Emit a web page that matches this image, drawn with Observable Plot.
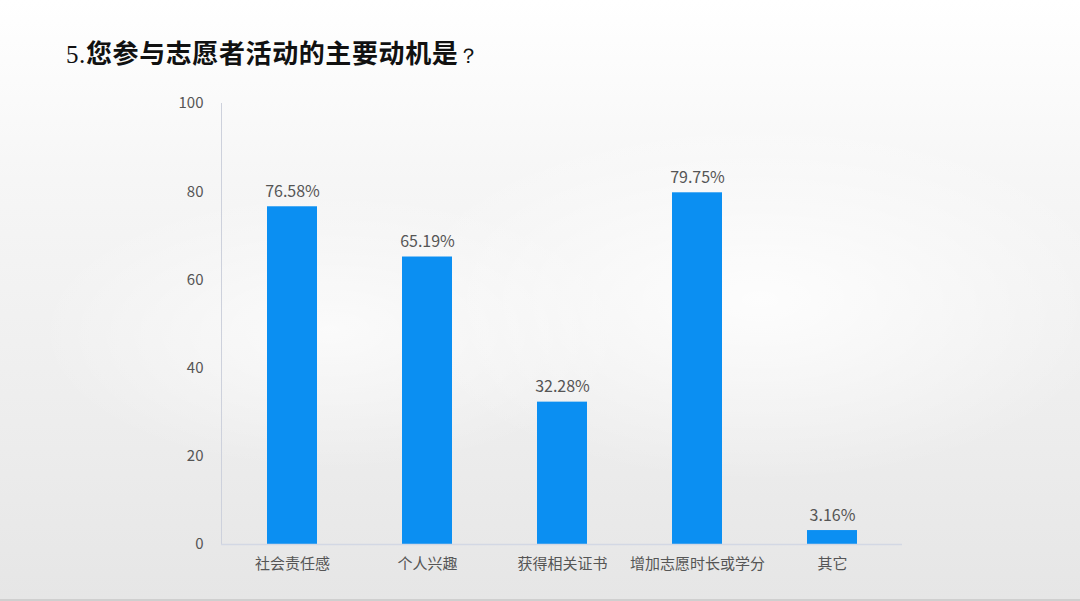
<!DOCTYPE html>
<html>
<head>
<meta charset="utf-8">
<script src="https://cdn.jsdelivr.net/npm/d3@7"></script>
<script src="https://cdn.jsdelivr.net/npm/@observablehq/plot@0.6"></script>
<style>
  html, body { margin: 0; padding: 0; }
  #wrap {
    position: relative; width: 1080px; height: 601px; overflow: hidden;
    background:
      radial-gradient(ellipse 520px 260px at 760px 300px, rgba(255,255,255,0.85), rgba(255,255,255,0) 70%),
      radial-gradient(ellipse 420px 200px at 330px 330px, rgba(255,255,255,0.7), rgba(255,255,255,0) 70%),
      linear-gradient(180deg, #ffffff 0%, #f6f6f6 30%, #ececec 75%, #e6e6e6 100%);
    border-bottom: 2px solid #cfcfcf;
    box-sizing: border-box;
  }
  #title {
    position: absolute; left: 66px; top: 33px;
    font-family: "Noto Sans CJK SC", sans-serif; font-weight: 700;
    font-size: 26px; color: #111; letter-spacing: 0.6px;
  }
  #title .num { font-family: "Liberation Serif", serif; font-weight: 400; font-size: 25px; }
  #title .q { font-family: "Liberation Serif", serif; font-weight: 400; font-size: 21px; }
  #chart { position: absolute; left: 0; top: 0; }
</style>
</head>
<body>
<div id="wrap">
  <div id="title"><span class="num">5.</span>您参与志愿者活动的主要动机是<span class="q">？</span></div>
  <div id="chart"></div>
</div>
<script>
const categories = ["社会责任感", "个人兴趣", "获得相关证书", "增加志愿时长或学分", "其它"];
const values = [76.58, 65.19, 32.28, 79.75, 3.16];
const yTicks = [0, 20, 40, 60, 80, 100];

const data = categories.map((c, i) => ({category: c, value: values[i]}));
const font = "'Noto Sans CJK SC', 'Noto Sans', sans-serif";

const chart = Plot.plot({
  width: 1080,
  height: 599,
  marginLeft: 221,
  marginRight: 178,
  marginTop: 103,
  marginBottom: 55,
  style: {background: "transparent", fontFamily: font, fontSize: "15px", color: "#555"},
  x: {domain: categories, paddingInner: 0.63, paddingOuter: 0.325, label: null, tickSize: 0, tickPadding: 14},
  y: {domain: [0, 100], ticks: yTicks, label: null, tickSize: 0, tickPadding: 18},
  marks: [
    Plot.frame({anchor: "left", stroke: "#cdd1dc", strokeWidth: 1}),
    Plot.barY(data, {x: "category", y: "value", fill: "#0b8ff2"}),
    Plot.ruleY([0], {stroke: "#d3d8e4", strokeWidth: 1.5}),
    Plot.text(data, {x: "category", y: "value", text: d => d.value.toFixed(2) + "%", dy: -15, fill: "#555", fontSize: 16})
  ]
});
document.getElementById("chart").appendChild(chart);
</script>
</body>
</html>
